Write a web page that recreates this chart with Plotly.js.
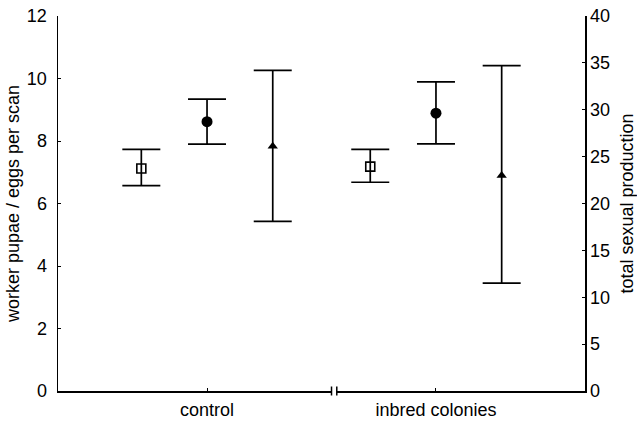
<!DOCTYPE html>
<html>
<head>
<meta charset="utf-8">
<script src="https://cdn.plot.ly/plotly-3.0.1.min.js"></script>
<style>html,body{margin:0;padding:0;background:#fff;}#chart{width:637px;height:422px;}</style>
</head>
<body>
<div id="chart"></div>
<script>
// Data
const categories = ['control', 'inbred colonies'];

// open squares: worker pupae / eggs per scan (left axis)
const squareMean = [7.12, 7.18];
const squareLow  = [6.57, 6.68];
const squareHigh = [7.73, 7.73];

// filled circles: worker pupae / eggs per scan (left axis)
const circleMean = [8.62, 8.89];
const circleLow  = [7.90, 7.91];
const circleHigh = [9.34, 9.89];

// triangles: total sexual production (right axis)
const triMean = [26.1, 23.0];
const triLow  = [18.1, 11.5];
const triHigh = [34.2, 34.7];

const leftTicks = [0, 2, 4, 6, 8, 10, 12];
const rightTicks = [0, 5, 10, 15, 20, 25, 30, 35, 40];

const catPos = categories.map((c, i) => i + 1);
const OFF = 0.287;

function errY(mean, low, high, w) {
  return {
    type: 'data', symmetric: false,
    array: high.map((h, i) => h - mean[i]),
    arrayminus: mean.map((m, i) => m - low[i]),
    color: '#000', thickness: 1.7, width: w
  };
}

const traces = [
  {
    x: catPos.map(p => p - OFF), y: squareMean, type: 'scatter', mode: 'markers',
    marker: {symbol: 'square-open', size: 9, color: '#000', line: {width: 1.6, color: '#000'}},
    error_y: errY(squareMean, squareLow, squareHigh, 19),
    xaxis: 'x', yaxis: 'y', showlegend: false, cliponaxis: false
  },
  {
    x: catPos, y: circleMean, type: 'scatter', mode: 'markers',
    marker: {symbol: 'circle', size: 11, color: '#000'},
    error_y: errY(circleMean, circleLow, circleHigh, 19),
    xaxis: 'x', yaxis: 'y', showlegend: false, cliponaxis: false
  },
  {
    x: catPos.map(p => p + OFF), y: triMean, type: 'scatter', mode: 'markers',
    marker: {symbol: 'triangle-up', size: 9, color: '#000'},
    error_y: errY(triMean, triLow, triHigh, 19),
    xaxis: 'x', yaxis: 'y2', showlegend: false, cliponaxis: false
  }
];

const font = {family: '"Liberation Sans", Arial, Helvetica, sans-serif', size: 18, color: '#000'};

const layout = {
  width: 637, height: 422,
  margin: {l: 58, r: 52, t: 16, b: 31, pad: 0},
  paper_bgcolor: '#fff', plot_bgcolor: '#fff',
  font: font,
  showlegend: false,
  xaxis: {
    range: [0.349, 2.651],
    tickvals: catPos, ticktext: categories,
    ticks: 'inside', ticklen: 3, tickwidth: 1, tickcolor: '#000',
    showline: true, linecolor: '#000', linewidth: 1.5,
    showgrid: false, zeroline: false, fixedrange: true,
    ticklabelstandoff: 2,
    tickfont: font
  },
  yaxis: {
    range: [0, 12], tickvals: leftTicks,
    ticks: 'inside', ticklen: 3, tickwidth: 1, tickcolor: '#000',
    showline: true, linecolor: '#000', linewidth: 1.5,
    showgrid: false, zeroline: false, fixedrange: true,
    ticklabelstandoff: 6,
    tickfont: font,
    title: {text: 'worker pupae / eggs per scan', font: font, standoff: 2}
  },
  yaxis2: {
    range: [0, 40], tickvals: rightTicks,
    overlaying: 'y', side: 'right',
    ticks: 'inside', ticklen: 3, tickwidth: 1, tickcolor: '#000',
    showline: true, linecolor: '#000', linewidth: 1.5,
    showgrid: false, zeroline: false, fixedrange: true,
    tickfont: font,
    title: {text: 'total sexual production', font: font, standoff: 12}
  },
  shapes: [
    // axis break on the x axis
    {type: 'rect', xref: 'paper', yref: 'paper', x0: 0.519, x1: 0.529, y0: -0.01, y1: 0.01,
     fillcolor: '#fff', line: {width: 0}, layer: 'above'},
    {type: 'line', xref: 'paper', yref: 'paper', x0: 0.519, x1: 0.519, y0: -0.012, y1: 0.012,
     line: {color: '#000', width: 1.5}, layer: 'above'},
    {type: 'line', xref: 'paper', yref: 'paper', x0: 0.529, x1: 0.529, y0: -0.012, y1: 0.012,
     line: {color: '#000', width: 1.5}, layer: 'above'}
  ]
};

Plotly.newPlot('chart', traces, layout, {displayModeBar: false, staticPlot: true});
</script>
</body>
</html>
